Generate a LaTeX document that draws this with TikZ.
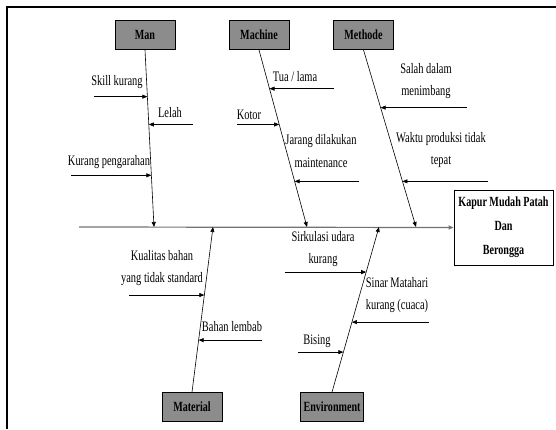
\documentclass[tikz,border=0pt]{standalone}
\usepackage{fontspec}
\setmainfont[FakeStretch=0.72]{Liberation Serif}
\usetikzlibrary{arrows.meta,calc}
\begin{document}
\begin{tikzpicture}[x=1pt, y=-1pt,
    cat/.style={draw, fill=black!45, line width=0.8pt, minimum width=60pt, minimum height=29pt, inner sep=3pt, font=\bfseries\fontsize{14}{16}\selectfont},
    effect/.style={draw, fill=white, line width=0.8pt, minimum width=99pt, minimum height=75pt, align=center, font=\bfseries\fontsize{14}{24}\selectfont},
    lbl/.style={align=center, inner sep=0pt, font=\fontsize{14.5}{22.5}\selectfont},
    bone/.style={-{Triangle[length=5pt,width=4pt]}, line width=0.6pt},
    arr/.style={-{Triangle[length=5pt,width=4pt]}, line width=0.6pt}
  ]
  \useasboundingbox (0,0) rectangle (556,429);
  \draw[line width=2pt] (7,429) -- (7,7) -- (556,7);

  % categories and effect
  \node[cat] (man) at (145,35) {Man};
  \node[cat] (mach) at (259,35) {Machine};
  \node[cat] (meth) at (363.5,35) {Methode};
  \node[cat] (mat) at (192,407) {Material};
  \node[cat] (env) at (332,407) {Environment};
  \node[effect] (eff) at (503.5,227.5) {Kapur Mudah Patah\\Dan\\Berongga};

  % spine and bones
  \coordinate (tail) at (79,227);
  \draw[bone, draw=black!55, line width=1.2pt] (tail) -- (eff.west);
  \coordinate (manE) at (154,227);
  \coordinate (machE) at (307,227);
  \coordinate (methE) at (416,227);
  \coordinate (matE) at (213,227);
  \coordinate (envE) at (379,227);
  \draw[bone] (man.south) -- (manE);
  \draw[bone] (mach.south) -- (machE);
  \draw[bone] (meth.south) -- (methE);
  \draw[bone] (mat.north) -- (matE);
  \draw[bone] (env.north) -- (envE);

  % sub-cause arrows
  \foreach \a/\b/\f/\x [count=\i] in {
      man.south/manE/0.264/94, man.south/manE/0.421/193, man.south/manE/0.708/71,
      mach.south/machE/0.219/334, mach.south/machE/0.421/237, mach.south/machE/0.742/359,
      meth.south/methE/0.326/467, meth.south/methE/0.742/488,
      mat.north/matE/0.588/129, mat.north/matE/0.315/262,
      env.north/envE/0.727/285, env.north/envE/0.424/429, env.north/envE/0.242/298} {
    \coordinate (tip\i) at ($(\a)!\f!(\b)$);
    \draw[arr] (\x,0 |- tip\i) -- (tip\i);
  }

  % labels
  \node[lbl] (skill) at (117,82) {Skill kurang};
  \node[lbl] (lelah) at (170,113) {Lelah};
  \node[lbl] (arah) at (109,162) {Kurang pengarahan};
  \node[lbl] (tua) at (295,77) {Tua / lama};
  \node[lbl] (kotor) at (249,115) {Kotor};
  \node[lbl] (jarang) at (321,151) {Jarang dilakukan\\maintenance};
  \node[lbl] (salah) at (426,81) {Salah dalam\\menimbang};
  \node[lbl] (waktu) at (441,150) {Waktu produksi tidak\\tepat};
  \node[lbl] (kual) at (162,268) {Kualitas bahan\\yang tidak standard};
  \node[lbl] (lembab) at (232,327) {Bahan lembab};
  \node[lbl] (sirk) at (323,249) {Sirkulasi udara\\kurang};
  \node[lbl] (sinar) at (397,295) {Sinar Matahari\\kurang (cuaca)};
  \node[lbl] (bising) at (317,341) {Bising};
\end{tikzpicture}
\end{document}
